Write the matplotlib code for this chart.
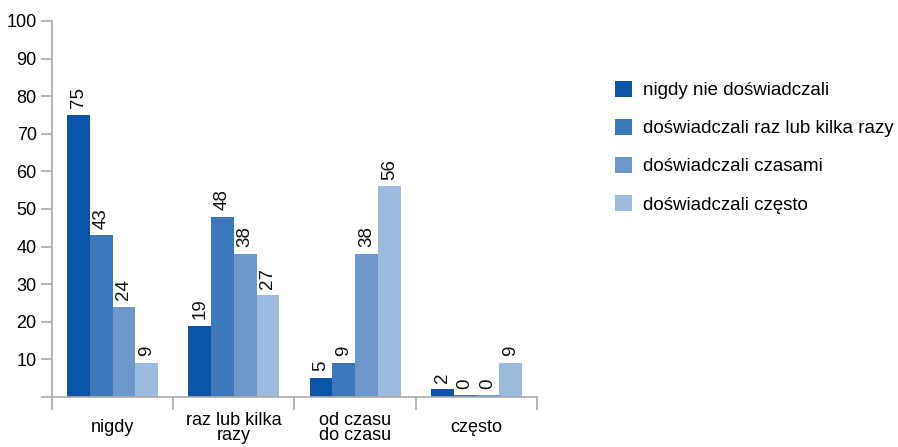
import matplotlib.pyplot as plt
import numpy as np

plt.rcParams['font.family'] = ['Liberation Sans', 'DejaVu Sans']

categories = ['nigdy', 'raz lub kilka\nrazy', 'od czasu\ndo czasu', 'często']
series_names = ['nigdy nie doświadczali', 'doświadczali raz lub kilka razy',
                'doświadczali czasami', 'doświadczali często']
values = [
    [75, 19, 5, 2],
    [43, 48, 9, 0],
    [24, 38, 38, 0],
    [9, 27, 56, 9],
]
colors = ['#0b55a8', '#3c78bb', '#6c98cb', '#9dbbdf']

fig = plt.figure(figsize=(8.98, 4.47), dpi=100)
ax = fig.add_axes([52 / 898, 1 - 397 / 447, 485 / 898, 376 / 447])

n = len(series_names)
bw = 0.1875
x = np.arange(len(categories))
for i, (name, vals) in enumerate(zip(series_names, values)):
    pos = x + (i - (n - 1) / 2) * bw
    # zero values still show as a thin line
    h = [v if v > 0 else 0.4 for v in vals]
    ax.bar(pos, h, width=bw, color=colors[i], label=name)
    for p, v, hh in zip(pos, vals, h):
        ax.text(p, hh + 1.8, str(v), rotation=90, ha='center', va='bottom',
                fontsize=13.5, color='#111111')

ax.set_xlim(-0.5, len(categories) - 0.5)
ax.set_ylim(0, 100)
ax.set_yticks(np.arange(0, 101, 10))
ax.set_yticklabels([''] + [str(t) for t in range(10, 101, 10)])
ax.set_xticks(np.arange(-0.5, len(categories), 1))
ax.set_xticklabels([])
ax.set_xticks(x, minor=True)
ax.set_xticklabels(categories, minor=True, fontsize=13, linespacing=0.85, va='center')
ax.tick_params(axis='x', which='minor', length=0, pad=22)
ax.tick_params(axis='x', which='major', length=9, color='#aaaaaa', width=1.2)
ax.tick_params(axis='y', length=8, color='#aaaaaa', width=1.2, labelsize=13, pad=3)

for s in ['top', 'right']:
    ax.spines[s].set_visible(False)
for s in ['left', 'bottom']:
    ax.spines[s].set_color('#aaaaaa')
    ax.spines[s].set_linewidth(1.2)

ax.legend(loc='upper left', bbox_to_anchor=(607 / 898, 1 - 73 / 447),
          bbox_transform=fig.transFigure, frameon=False, fontsize=13.5,
          handlelength=0.95, handleheight=0.95, handletextpad=0.55,
          labelspacing=1.05, borderaxespad=0)

fig.savefig('out.png', dpi=100)
